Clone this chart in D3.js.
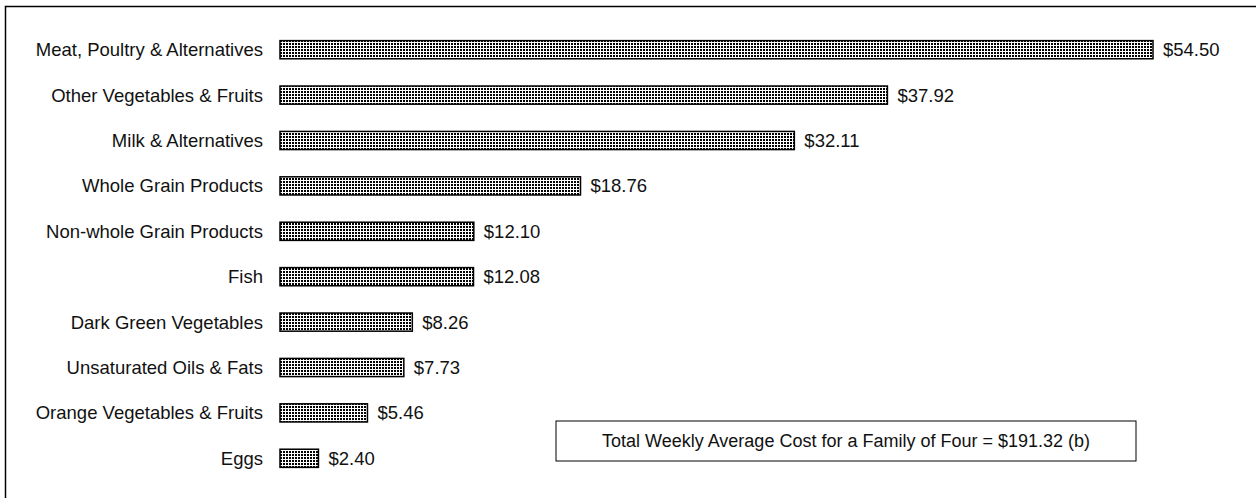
<!DOCTYPE html>
<html>
<head>
<meta charset="utf-8">
<script src="https://cdn.jsdelivr.net/npm/d3@7"></script>
<style>
  body { margin: 0; background: #fff; }
  text { font-family: "Liberation Sans", Arial, sans-serif; fill: #111; }
</style>
</head>
<body>
<div id="chart"></div>
<script>
// Chart data
const categories = ["Meat, Poultry & Alternatives", "Other Vegetables & Fruits", "Milk & Alternatives",
    "Whole Grain Products", "Non-whole Grain Products", "Fish", "Dark Green Vegetables",
    "Unsaturated Oils & Fats", "Orange Vegetables & Fruits", "Eggs"]
const costs = [54.50, 37.92, 32.11, 18.76, 12.10, 12.08, 8.26, 7.73, 5.46, 2.40]
const totalNote = "Total Weekly Average Cost for a Family of Four = $191.32 (b)"

const W = 1256, H = 498

const data = categories.map((c, i) => ({ name: c, value: costs[i] }))

const svg = d3.select("#chart").append("svg")
    .attr("width", W)
    .attr("height", H)

// dotted fill for the bars
const pat = svg.append("defs").append("pattern")
    .attr("id", "dots")
    .attr("patternUnits", "userSpaceOnUse")
    .attr("width", 3)
    .attr("height", 3)
pat.append("rect").attr("width", 3).attr("height", 3).attr("fill", "#fff")
pat.append("rect").attr("x", 1).attr("y", 1).attr("width", 2).attr("height", 2).attr("fill", "#000")

// outer frame (runs off the right and bottom edge)
svg.append("rect")
    .attr("x", 5.5).attr("y", 6.5)
    .attr("width", W).attr("height", H)
    .attr("fill", "none")
    .attr("stroke", "#000")
    .attr("stroke-width", 1.5)

// scales
const x = d3.scaleLinear()
    .domain([0, 54.50])
    .range([280, 1153])

const y = d3.scaleBand()
    .domain(categories)
    .range([27, 481])
    .paddingInner(0.6)
    .paddingOuter(0.3)

const row = svg.selectAll(".row")
    .data(data)
    .join("g")
    .attr("class", "row")

row.append("rect")
    .attr("x", x(0))
    .attr("y", d => y(d.name))
    .attr("width", d => x(d.value) - x(0))
    .attr("height", y.bandwidth())
    .attr("fill", "url(#dots)")
    .attr("stroke", "#000")
    .attr("stroke-width", 1.5)

row.append("text")
    .attr("x", 263)
    .attr("y", d => y(d.name) + y.bandwidth() / 2)
    .attr("dy", "0.35em")
    .attr("text-anchor", "end")
    .style("font-size", "18.5px")
    .text(d => d.name)

row.append("text")
    .attr("x", d => x(d.value) + 10)
    .attr("y", d => y(d.name) + y.bandwidth() / 2)
    .attr("dy", "0.35em")
    .style("font-size", "18.5px")
    .text(d => "$" + d.value.toFixed(2))

// total box
const box = svg.append("g").attr("transform", "translate(556,421)")
box.append("rect")
    .attr("width", 580)
    .attr("height", 40)
    .attr("fill", "#fff")
    .attr("stroke", "#000")
    .attr("stroke-width", 1)
box.append("text")
    .attr("x", 290)
    .attr("y", 20)
    .attr("dy", "0.35em")
    .attr("text-anchor", "middle")
    .style("font-size", "18px")
    .text(totalNote)
</script>
</body>
</html>
